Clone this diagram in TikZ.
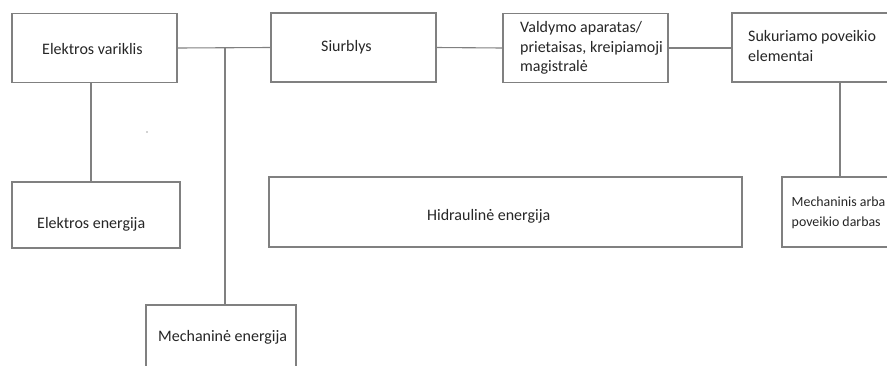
\documentclass[tikz,border=0pt]{standalone}
\usepackage{fontspec}
\setmainfont{Carlito}
\definecolor{linegray}{RGB}{128,128,128}
\definecolor{txt}{RGB}{38,38,38}
\begin{document}
\begin{tikzpicture}[x=1pt,y=-1pt,
  box/.style={draw=linegray, line width=1.1pt, inner sep=0pt, outer sep=0pt, anchor=north west, fill=white},
  conn/.style={draw=linegray, line width=1.1pt},
  lbl/.style={inner sep=0pt, anchor=base west, text=txt, font=\fontsize{16}{19.5}\selectfont},
  lbls/.style={inner sep=0pt, anchor=base west, text=txt, font=\fontsize{13.9}{20}\selectfont}]
\useasboundingbox (0,0) rectangle (887,365);
\clip (0,0) rectangle (887,365);
% connector points
\coordinate (j) at (225,47.5);
\coordinate (ja) at (91,82.5);
\coordinate (jb) at (91,182);
\coordinate (jc) at (840,82.5);
\coordinate (jd) at (840,177);
% boxes
\node[box, minimum width=165pt, minimum height=69pt] (ev) at (12,13.5) {};
\node[box, minimum width=165pt, minimum height=69pt] (siu) at (271,13) {};
\node[box, minimum width=165pt, minimum height=69pt] (val) at (503,13.5) {};
\node[box, minimum width=180pt, minimum height=69pt] (suk) at (732,13) {};
\node[box, minimum width=168pt, minimum height=66pt] (ee) at (12,182) {};
\node[box, minimum width=473pt, minimum height=70pt] (hid) at (269,177) {};
\node[box, minimum width=150pt, minimum height=80pt] (mech) at (146,305) {};
\node[box, minimum width=130pt, minimum height=70pt] (mab) at (782,177) {};
% lines
\draw[conn] (ev.east) -- (siu.west);
\draw[conn] (siu.east) -- (val.west);
\draw[conn] (val.east) -- (val.east -| suk.west);
\draw[conn] (j) -- (j |- mech.north);
\draw[conn] (ja) -- (jb);
\draw[conn] (jc) -- (jd);
% texts
\node[lbl] (tev) at (42,54.5) {Elektros variklis};
\node[lbl] (tsiu) at (321,51) {Siurblys};
\node[lbl] (tval) at (520,32.7) {\begin{tabular}[t]{@{}l@{}}Valdymo aparatas/\\prietaisas, kreipiamoji\\magistralė\end{tabular}};
\node[lbl] (tsuk) at (748,41.7) {\begin{tabular}[t]{@{}l@{}}Sukuriamo poveikio\\elementai\end{tabular}};
\node[lbl] (tee) at (37,228.3) {Elektros energija};
\node[lbl] (thid) at (427,220) {Hidraulinė energija};
\node[lbl] (tmech) at (158,341) {Mechaninė energija};
\node[lbls] (tmab) at (791.5,206) {\begin{tabular}[t]{@{}l@{}}Mechaninis arba\\poveikio darbas\end{tabular}};
\fill[linegray!70] (147,132) circle (0.8pt);
\end{tikzpicture}
\end{document}
